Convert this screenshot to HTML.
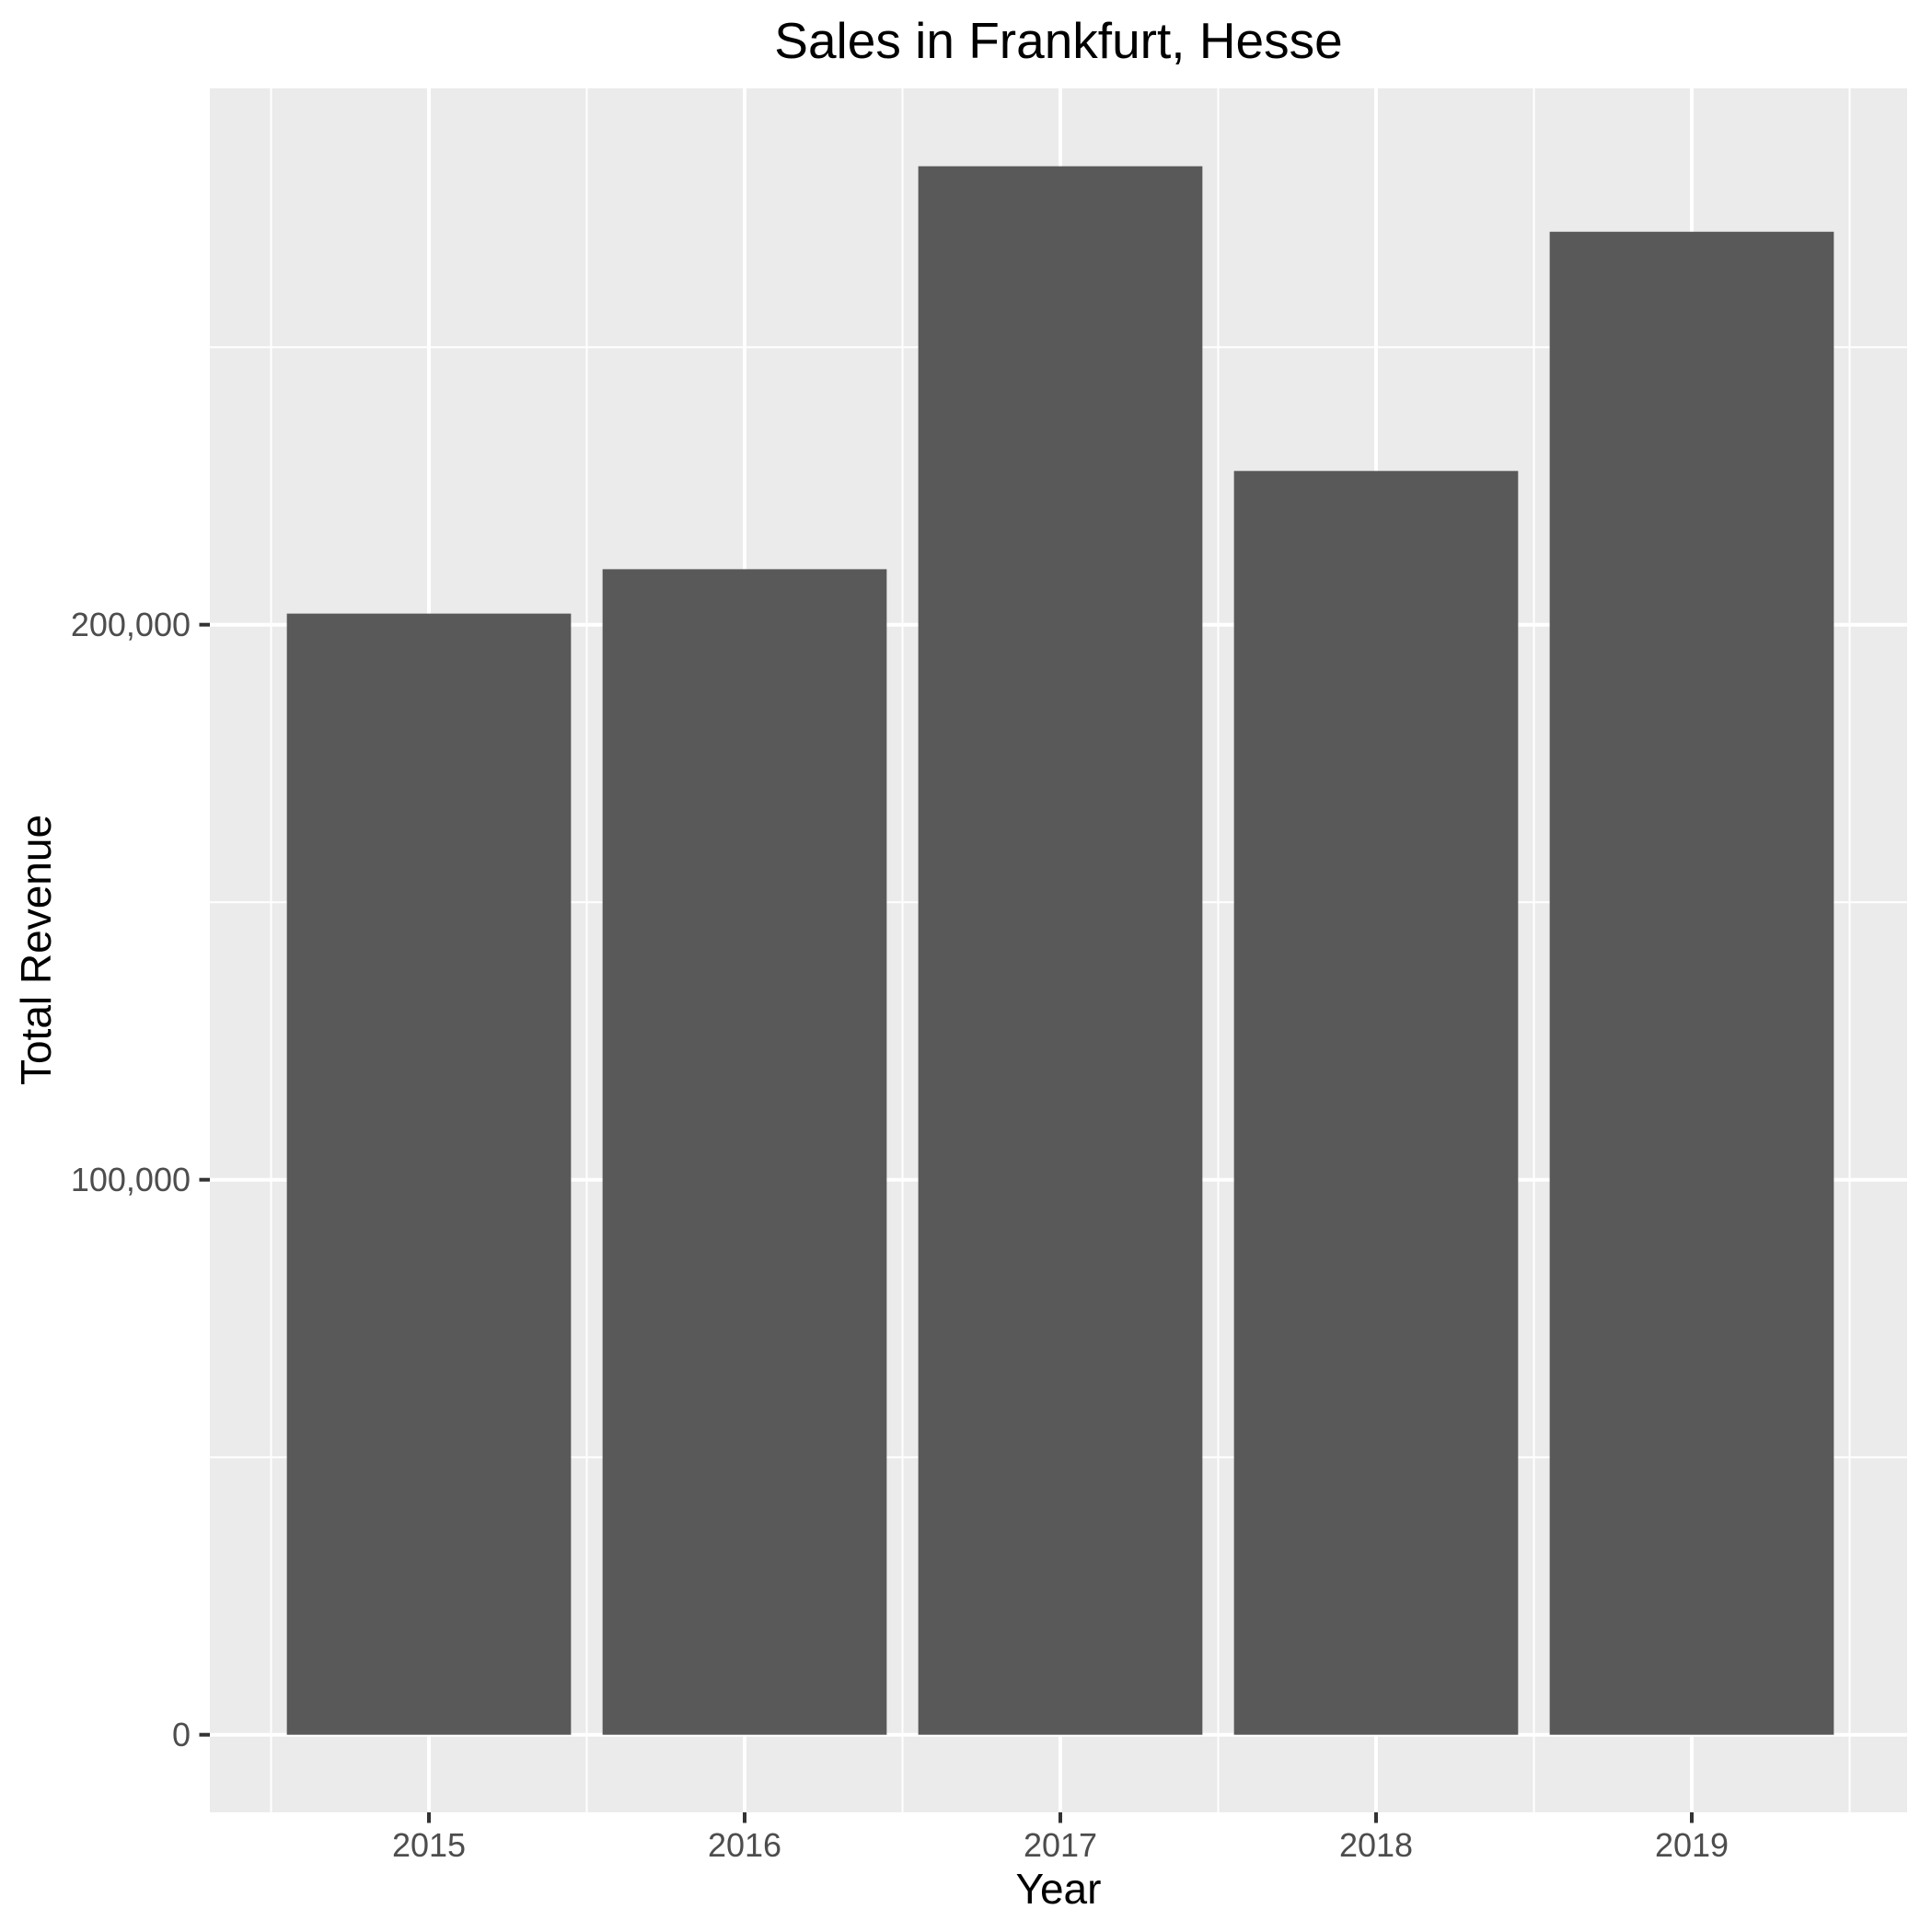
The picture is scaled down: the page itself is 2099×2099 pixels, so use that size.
<!DOCTYPE html>
<html><head><meta charset="utf-8"><style>
html,body{margin:0;padding:0;background:#fff;}
svg{display:block;font-family:"Liberation Sans",Arial,sans-serif;}
</style></head><body>
<svg id="chart" width="2099" height="2099" viewBox="0 0 2099 2099">
<rect x="0" y="0" width="2099" height="2099" fill="#fff"/>
<text x="1150" y="63" text-anchor="middle" font-size="55" fill="#000">Sales in Frankfurt, Hesse</text>
<rect x="228" y="96" width="1844" height="1873" fill="#EBEBEB"/>
<g id="grid"></g>
<g id="bars"></g>
<g id="axes"></g>
<text x="1150" y="2068" text-anchor="middle" font-size="46" fill="#000">Year</text>
<text transform="translate(55,1032) rotate(-90)" text-anchor="middle" font-size="46" fill="#000">Total Revenue</text>
</svg>
<script>
const categories = ["2015","2016","2017","2018","2019"];
const revenue = [202000, 210000, 282600, 227700, 270800];
const yTicks = [0, 100000, 200000];
const yTickLabels = ["0", "100,000", "200,000"];
const yMinor = [50000, 150000, 250000];

const NS = "http://www.w3.org/2000/svg";
const x0 = 466, step = 343, barW = 0.9 * 343;
const zeroY = 1884.7, pxPer = 603 / 100000;
function xScale(i){ return x0 + i * step; }
function yScale(v){ return zeroY - v * pxPer; }
function mk(tag, attrs, parent){ const e = document.createElementNS(NS, tag); for (const k in attrs) e.setAttribute(k, attrs[k]); parent.appendChild(e); return e; }
const grid = document.getElementById('grid'), bars = document.getElementById('bars'), axes = document.getElementById('axes');
// minor grid
yMinor.forEach(v => {
  const l = mk('line', {x1:228, x2:2072, y1:yScale(v), y2:yScale(v), stroke:'#fff', 'stroke-width':2}, grid);
  
  
});
for (let i = 0; i <= categories.length; i++) {
  const x = xScale(i) - step / 2;
  const l = mk('line', {x1:x, x2:x, y1:96, y2:1969, stroke:'#fff', 'stroke-width':2}, grid);
  
  
}
yTicks.forEach((v, i) => {
  const l = mk('line', {x1:228, x2:2072, y1:yScale(v), y2:yScale(v), stroke:'#fff', 'stroke-width':4}, grid);
  
  
  const t = mk('line', {x1:216.5, x2:228, y1:yScale(v), y2:yScale(v), stroke:'#333', 'stroke-width':4}, axes);
  
  
  const tx = mk('text', {x:207, y:yScale(v) + 12.5, 'text-anchor':'end', 'font-size':36, fill:'#4D4D4D'}, axes);
  tx.textContent = yTickLabels[i];
  
  
});
categories.forEach((c, i) => {
  const x = xScale(i);
  const l = mk('line', {x1:x, x2:x, y1:96, y2:1969, stroke:'#fff', 'stroke-width':4}, grid);
  
  
  const b = mk('rect', {x:x - barW/2, y:yScale(revenue[i]), width:barW, height:zeroY - yScale(revenue[i]), fill:'#595959'}, bars);
  
  
  const t = mk('line', {x1:x, x2:x, y1:1969, y2:1980.5, stroke:'#333', 'stroke-width':4}, axes);
  
  
  const tx = mk('text', {x:x, y:2017, 'text-anchor':'middle', 'font-size':36, fill:'#4D4D4D'}, axes);
  tx.textContent = c;
  
  
});
</script>
</body></html>
